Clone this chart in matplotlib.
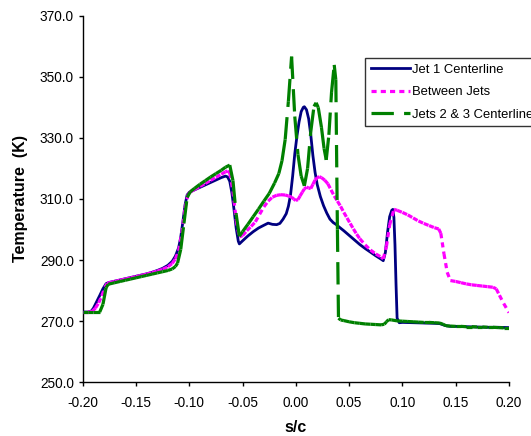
import matplotlib
matplotlib.use("Agg")
import matplotlib.pyplot as plt
from matplotlib.collections import LineCollection
from matplotlib.lines import Line2D
import numpy as np

plt.rcParams['font.family'] = ['Liberation Sans', 'DejaVu Sans']

# ---- data: temperature along s/c ----
x_jet1 = [-0.200, -0.195, -0.192, -0.190, -0.187, -0.184, -0.181, -0.178, -0.175, -0.170,
          -0.165, -0.160, -0.155, -0.150, -0.145, -0.140, -0.135, -0.130, -0.125, -0.120,
          -0.116, -0.113, -0.110, -0.108, -0.106, -0.104, -0.102, -0.100, -0.095, -0.090,
          -0.085, -0.080, -0.075, -0.070, -0.066, -0.064, -0.062, -0.060, -0.058, -0.056,
          -0.054, -0.053, -0.050, -0.045, -0.040, -0.035, -0.030, -0.026, -0.022, -0.018,
          -0.015, -0.012, -0.009, -0.007, -0.005, -0.003, -0.001, 0.001, 0.003, 0.005,
          0.007, 0.008, 0.010, 0.012, 0.014, 0.016, 0.018, 0.020, 0.023, 0.026,
          0.029, 0.032, 0.035, 0.038, 0.040, 0.045, 0.050, 0.055, 0.060, 0.065,
          0.070, 0.075, 0.080, 0.082, 0.084, 0.086, 0.088, 0.090, 0.091, 0.092,
          0.093, 0.094, 0.095, 0.097, 0.100, 0.110, 0.120, 0.130, 0.135, 0.140,
          0.145, 0.150, 0.160, 0.170, 0.180, 0.190, 0.200]
t_jet1 = [273.0, 273.0, 273.3, 274.2, 276.3, 278.4, 280.6, 282.3, 282.7, 283.1,
          283.5, 283.9, 284.3, 284.7, 285.1, 285.5, 286.0, 286.6, 287.3, 288.3,
          289.6, 291.3, 294.0, 297.5, 302.5, 308.0, 311.3, 312.2, 313.0, 313.8,
          314.6, 315.4, 316.2, 317.0, 317.5, 317.2, 315.8, 312.0, 306.5, 300.5,
          296.2, 295.3, 296.3, 297.9, 299.3, 300.5, 301.4, 302.1, 301.7, 301.6,
          302.0, 303.4, 305.2, 307.6, 311.3, 317.5, 324.8, 330.5, 335.2, 338.6,
          340.0, 340.2, 339.2, 336.3, 331.0, 324.2, 318.8, 314.8, 310.8, 307.8,
          305.4, 303.4, 302.3, 301.6, 301.0, 299.6, 298.1, 296.6, 295.1, 293.8,
          292.6, 291.4, 290.3, 289.8, 292.5, 299.0, 304.2, 306.3, 306.6, 304.0,
          295.0, 282.0, 271.0, 269.5, 269.6, 269.5, 269.4, 269.3, 269.2, 268.6,
          268.3, 268.3, 268.2, 268.1, 268.0, 268.0, 267.9]

x_between = [-0.200, -0.195, -0.191, -0.188, -0.185, -0.182, -0.179, -0.177, -0.175, -0.170,
             -0.165, -0.160, -0.155, -0.150, -0.145, -0.140, -0.135, -0.130, -0.125, -0.120,
             -0.116, -0.113, -0.110, -0.107, -0.104, -0.101, -0.099, -0.095, -0.090,
             -0.085, -0.080, -0.075, -0.070, -0.066, -0.064, -0.062, -0.059, -0.056,
             -0.053, -0.050, -0.046, -0.042, -0.038, -0.034, -0.030, -0.026, -0.022,
             -0.018, -0.014, -0.010, -0.007, -0.004, -0.002, 0.000, 0.002, 0.004, 0.006,
             0.008, 0.010, 0.012, 0.014, 0.016, 0.018, 0.020, 0.022, 0.024, 0.027,
             0.030, 0.033, 0.036, 0.039, 0.042, 0.045, 0.048, 0.051, 0.054, 0.057,
             0.060, 0.065, 0.070, 0.075, 0.080, 0.082, 0.085, 0.088, 0.092,
             0.095, 0.100, 0.105, 0.110, 0.115, 0.120, 0.125, 0.130, 0.134,
             0.136, 0.139, 0.142, 0.145, 0.150, 0.155, 0.160, 0.165, 0.170,
             0.175, 0.180, 0.185, 0.188, 0.191, 0.195, 0.200]
t_between = [273.0, 273.0, 273.2, 274.3, 276.0, 278.3, 281.2, 282.4, 282.6, 283.0,
             283.4, 283.8, 284.2, 284.6, 285.0, 285.4, 285.9, 286.4, 287.0, 287.8,
             288.9, 290.4, 293.0, 298.8, 307.0, 311.6, 312.3, 313.1, 314.1,
             315.1, 316.1, 317.1, 318.1, 318.9, 319.2, 318.5, 312.5, 303.0,
             297.6, 298.0, 299.6, 301.0, 302.5, 305.0, 307.4, 309.3, 310.6,
             311.2, 311.4, 311.3, 311.0, 310.6, 310.0, 309.5, 309.8, 311.0, 312.2,
             313.3, 313.9, 313.6, 313.4, 314.8, 316.2, 317.0, 317.3, 317.0, 316.2,
             315.0, 313.0, 311.0, 309.3, 307.6, 305.6, 303.8, 302.0, 300.2, 298.5,
             297.0, 295.0, 293.3, 292.0, 291.0, 290.4, 294.5, 301.5, 306.6,
             306.3, 305.6, 304.8, 303.8, 302.8, 302.0, 301.3, 300.6, 300.2,
             298.8, 292.0, 286.0, 283.3, 283.0, 282.6, 282.2, 281.9, 281.7,
             281.5, 281.3, 281.1, 280.6, 278.5, 275.8, 272.8]

x_jets23 = [-0.200, -0.195, -0.190, -0.184, -0.181, -0.178, -0.176, -0.170,
            -0.165, -0.160, -0.155, -0.150, -0.145, -0.140, -0.135, -0.130, -0.125, -0.120,
            -0.116, -0.113, -0.111, -0.108, -0.105, -0.102, -0.099, -0.095,
            -0.090, -0.085, -0.080, -0.075, -0.070, -0.066, -0.062, -0.059, -0.056,
            -0.053, -0.050, -0.045, -0.040, -0.035, -0.030, -0.025, -0.020, -0.016,
            -0.013, -0.010, -0.007, -0.004, -0.001, 0.002, 0.005, 0.008, 0.011,
            0.014, 0.017, 0.019, 0.021, 0.024, 0.0265, 0.0285, 0.031, 0.0335, 0.036,
            0.0375, 0.039, 0.040, 0.042, 0.045, 0.050, 0.055, 0.060,
            0.065, 0.070, 0.075, 0.080, 0.083, 0.085, 0.087, 0.090, 0.095, 0.100,
            0.105, 0.110, 0.115, 0.120, 0.125, 0.130, 0.135, 0.138, 0.141, 0.145,
            0.150, 0.155, 0.160, 0.165, 0.170, 0.175, 0.180, 0.185, 0.190, 0.195, 0.200]
t_jets23 = [273.0, 273.0, 273.0, 273.0, 275.5, 281.0, 282.1, 282.6,
            283.0, 283.4, 283.8, 284.2, 284.6, 285.0, 285.4, 285.8, 286.2, 286.6,
            287.1, 287.9, 289.0, 293.5, 302.0, 310.5, 312.4, 313.5,
            314.8, 316.0, 317.2, 318.3, 319.4, 320.4, 321.1, 316.0, 305.0,
            297.8, 299.3, 301.7, 304.2, 306.7, 309.3, 311.8, 315.2, 318.3,
            322.5, 329.5, 342.0, 356.6, 337.0, 324.5, 317.5, 314.3, 320.0,
            332.0, 340.3, 341.5, 340.0, 333.5, 326.5, 322.8, 331.0, 345.0, 353.9,
            349.0, 300.0, 271.0, 270.4, 270.2, 269.8, 269.5, 269.3,
            269.1, 269.0, 268.9, 268.8, 269.0, 269.8, 270.5, 270.4, 270.1, 270.0,
            269.9, 269.8, 269.7, 269.6, 269.6, 269.5, 269.4, 269.0, 268.5, 268.4,
            268.3, 268.3, 268.2, 268.2, 268.1, 268.1, 268.0, 268.0, 267.9, 267.8, 267.8]

series_labels = ["Jet 1 Centerline", "Between Jets", "Jets 2 & 3 Centerline"]
x_ticks = [-0.20, -0.15, -0.10, -0.05, 0.00, 0.05, 0.10, 0.15, 0.20]
y_ticks = [250.0, 270.0, 290.0, 310.0, 330.0, 350.0, 370.0]

NAVY = "#000080"
MAGENTA = "#FF00FF"
GREEN = "#008000"

DOT = (0, (1.6, 1.3))
DASH = (0, (7.0, 3.2))


def dashed_segments(ax, x, y, color, lw, style):
    """Draw a series as separate segments so each one restarts its dash pattern."""
    pts = np.column_stack([x, y])
    segs = np.stack([pts[:-1], pts[1:]], axis=1)
    lc = LineCollection(segs, colors=color, linewidths=lw, linestyles=style,
                        capstyle="butt", joinstyle="miter")
    ax.add_collection(lc)
    return lc


fig = plt.figure(figsize=(5.31, 4.36), dpi=100)
ax = fig.add_axes([0.1557, 0.1232, 0.8029, 0.8408])

ax.plot(x_jet1, t_jet1, color=NAVY, lw=2.0, solid_joinstyle="round", zorder=3)
dashed_segments(ax, x_between, t_between, MAGENTA, 2.3, DOT).set_zorder(4)
dashed_segments(ax, x_jets23, t_jets23, GREEN, 2.3, DASH).set_zorder(5)

ax.set_xlim(-0.20, 0.20)
ax.set_ylim(250, 370)
ax.set_xticks(x_ticks)
ax.set_xticklabels([f"{v:.2f}" for v in x_ticks])
ax.set_yticks(y_ticks)
ax.set_yticklabels([f"{v:.1f}" for v in y_ticks])

for side in ("top", "right"):
    ax.spines[side].set_visible(False)
for side in ("left", "bottom"):
    ax.spines[side].set_linewidth(1.0)
    ax.spines[side].set_color("black")

ax.tick_params(axis="both", direction="out", length=3, width=1.0, labelsize=9.8,
               colors="black")
ax.tick_params(axis="x", pad=7)
ax.tick_params(axis="y", pad=3.4)

ax.set_xlabel("s/c", fontsize=11.5, fontweight="bold")
ax.set_ylabel("Temperature  (K)", fontsize=11.5, fontweight="bold")
ax.yaxis.set_label_coords(-0.128, 0.5)
ax.xaxis.set_label_coords(0.5, -0.103)

handles = [
    Line2D([], [], color=NAVY, lw=2.0),
    Line2D([], [], color=MAGENTA, lw=2.3, linestyle=DOT, dash_capstyle="butt"),
    Line2D([], [], color=GREEN, lw=2.3, linestyle=DASH, dash_capstyle="butt"),
]
leg = fig.legend(handles, series_labels, loc="upper left",
                 bbox_to_anchor=(365.3 / 531, 1 - 58.3 / 436),
                 fontsize=9.4, frameon=True, fancybox=False, edgecolor="black",
                 handlelength=3.0, handletextpad=0.2, labelspacing=0.8,
                 borderpad=0.4, borderaxespad=0.0)
leg.get_frame().set_linewidth(1.0)

fig.savefig("out.png", dpi=100)
